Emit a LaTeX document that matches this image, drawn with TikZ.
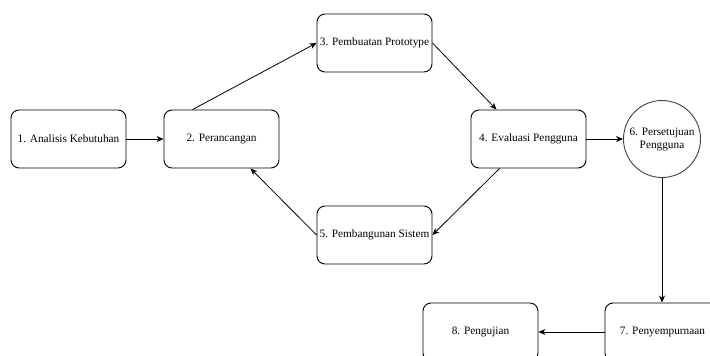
\documentclass[tikz,border=0pt]{standalone}
\usepackage{fontspec}
\setmainfont{Liberation Serif}
\usetikzlibrary{arrows.meta}
\begin{document}
\begin{tikzpicture}[x=1pt,y=-1pt,
  stepbox/.style={draw=black,line width=0.9pt,rounded corners=8pt,minimum width=115pt,minimum height=58pt,inner sep=0pt,font=\rmfamily\fontsize{11.3}{13}\selectfont,fill=white},
  circ/.style={draw=black!75,line width=0.9pt,circle,minimum size=77pt,inner sep=0pt,align=center,font=\rmfamily\fontsize{11.3}{13}\selectfont},
  conn/.style={line width=0.8pt,-{Stealth[length=7pt,width=6pt]}}]
\useasboundingbox (0,0) rectangle (710,356);
\clip (0,0) rectangle (710,356);
\node[stepbox] (n1) at (68.5,139) {1. Analisis Kebutuhan};
\node[stepbox] (n2) at (221.5,139) {2. Perancangan};
\node[stepbox] (n3) at (374.5,43) {3. Pembuatan Prototype};
\node[stepbox] (n4) at (528.5,139) {4. Evaluasi Pengguna};
\node[stepbox] (n5) at (374.5,235) {5. Pembangunan Sistem};
\node[circ] (n6) at (662,139) {6. Persetujuan\\Pengguna};
\node[stepbox] (n7) at (662.5,332) {7. Penyempurnaan};
\node[stepbox] (n8) at (480.5,332) {8. Pengujian};
\draw[conn] (n1) -- (n2);
\draw[conn] ([xshift=-29pt]n2.north) -- (n3.west);
\draw[conn] (n3.east) -- ([xshift=-32pt]n4.north);
\draw[conn] ([xshift=-29pt]n4.south) -- (n5.east);
\draw[conn] (n5.west) -- ([xshift=29pt]n2.south);
\draw[conn] (n4) -- (n6);
\draw[conn] (n6.south) -- (n7.north -| n6.south);
\draw[conn] (n7.west) -- (n8.east);
\end{tikzpicture}
\end{document}
